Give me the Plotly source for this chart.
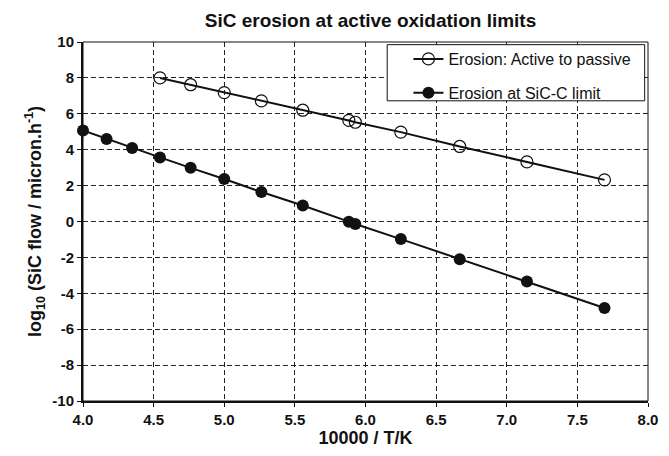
import plotly.graph_objects as go

open_x = [4.545, 4.762, 5.0, 5.263, 5.556, 5.882, 5.928, 6.25, 6.667, 7.143, 7.692]
open_y = [8.0, 7.62, 7.18, 6.72, 6.2, 5.63, 5.53, 4.98, 4.18, 3.32, 2.32]
filled_x = [4.0, 4.167, 4.348, 4.545, 4.762, 5.0, 5.263, 5.556, 5.882, 5.928, 6.25, 6.667, 7.143, 7.692]
filled_y = [5.07, 4.6, 4.1, 3.57, 2.99, 2.37, 1.64, 0.89, -0.01, -0.14, -0.98, -2.1, -3.34, -4.82]
x_ticks = [4.0, 4.5, 5.0, 5.5, 6.0, 6.5, 7.0, 7.5, 8.0]
y_ticks = [-10, -8, -6, -4, -2, 0, 2, 4, 6, 8, 10]

FONT = "Liberation Sans, Arial, sans-serif"
INK = "#111"

fig = go.Figure()
fig.add_trace(go.Scatter(
    x=open_x, y=open_y, mode="lines+markers", name="Erosion: Active to passive",
    legendgroup="a",
    line=dict(color=INK, width=2),
    marker=dict(symbol="circle-open", size=12, color=INK, line=dict(width=1.2)),
    cliponaxis=False,
))
fig.add_trace(go.Scatter(
    x=filled_x, y=filled_y, mode="lines+markers", name="Erosion at SiC-C limit",
    legendgroup="b",
    line=dict(color=INK, width=2),
    marker=dict(symbol="circle", size=12, color=INK),
    cliponaxis=False,
))

fig.update_layout(
    width=669, height=456,
    margin=dict(l=83, r=11, t=42, b=51),
    paper_bgcolor="white", plot_bgcolor="white",
    font=dict(family=FONT, color=INK),
    title=dict(text="<b>SiC erosion at active oxidation limits</b>", x=(83 + 658) / 2 / 669,
               xanchor="center", y=1 - 20 / 456, yanchor="middle",
               font=dict(size=19)),
    legend=dict(x=0.576, xanchor="left", y=1.0, yanchor="top",
                bgcolor="rgba(0,0,0,0)", borderwidth=0,
                font=dict(size=16), traceorder="grouped", tracegroupgap=10,
                itemwidth=30),
    showlegend=True,
)
axis_common = dict(
    ticks="outside", ticklen=4, tickcolor=INK,
    tickfont=dict(size=15, family=FONT, color=INK),
    showline=True, linecolor=INK, linewidth=2, mirror=False,
    showgrid=True, gridcolor="#222", gridwidth=1, griddash="5px,3px",
    zeroline=False,
)
fig.update_xaxes(
    range=[4.0, 8.0], tickvals=x_ticks, ticktext=[f"<b>{v:.1f}</b>" for v in x_ticks],
    title=dict(text="<b>10000 / T/K</b>", font=dict(size=18), standoff=4),
    **axis_common,
)
fig.update_yaxes(
    range=[-10, 10], tickvals=y_ticks, ticktext=[f"<b>{v}</b>" for v in y_ticks],
    title=dict(text="<b>log<sub>10</sub> (SiC flow / micron.h<sup>-1</sup>)</b>",
               font=dict(size=18), standoff=6),
    **axis_common,
)
# frame on top and right
fig.add_shape(type="rect", xref="paper", yref="paper", x0=0, x1=1, y0=0, y1=1,
              line=dict(color=INK, width=1), layer="below")
# legend box
fig.add_shape(type="rect", xref="paper", yref="paper", x0=0.5384, x1=0.9941,
              y0=0.8362, y1=0.9926, fillcolor="white",
              line=dict(color=INK, width=1), layer="above")

fig.write_html("out.html")
